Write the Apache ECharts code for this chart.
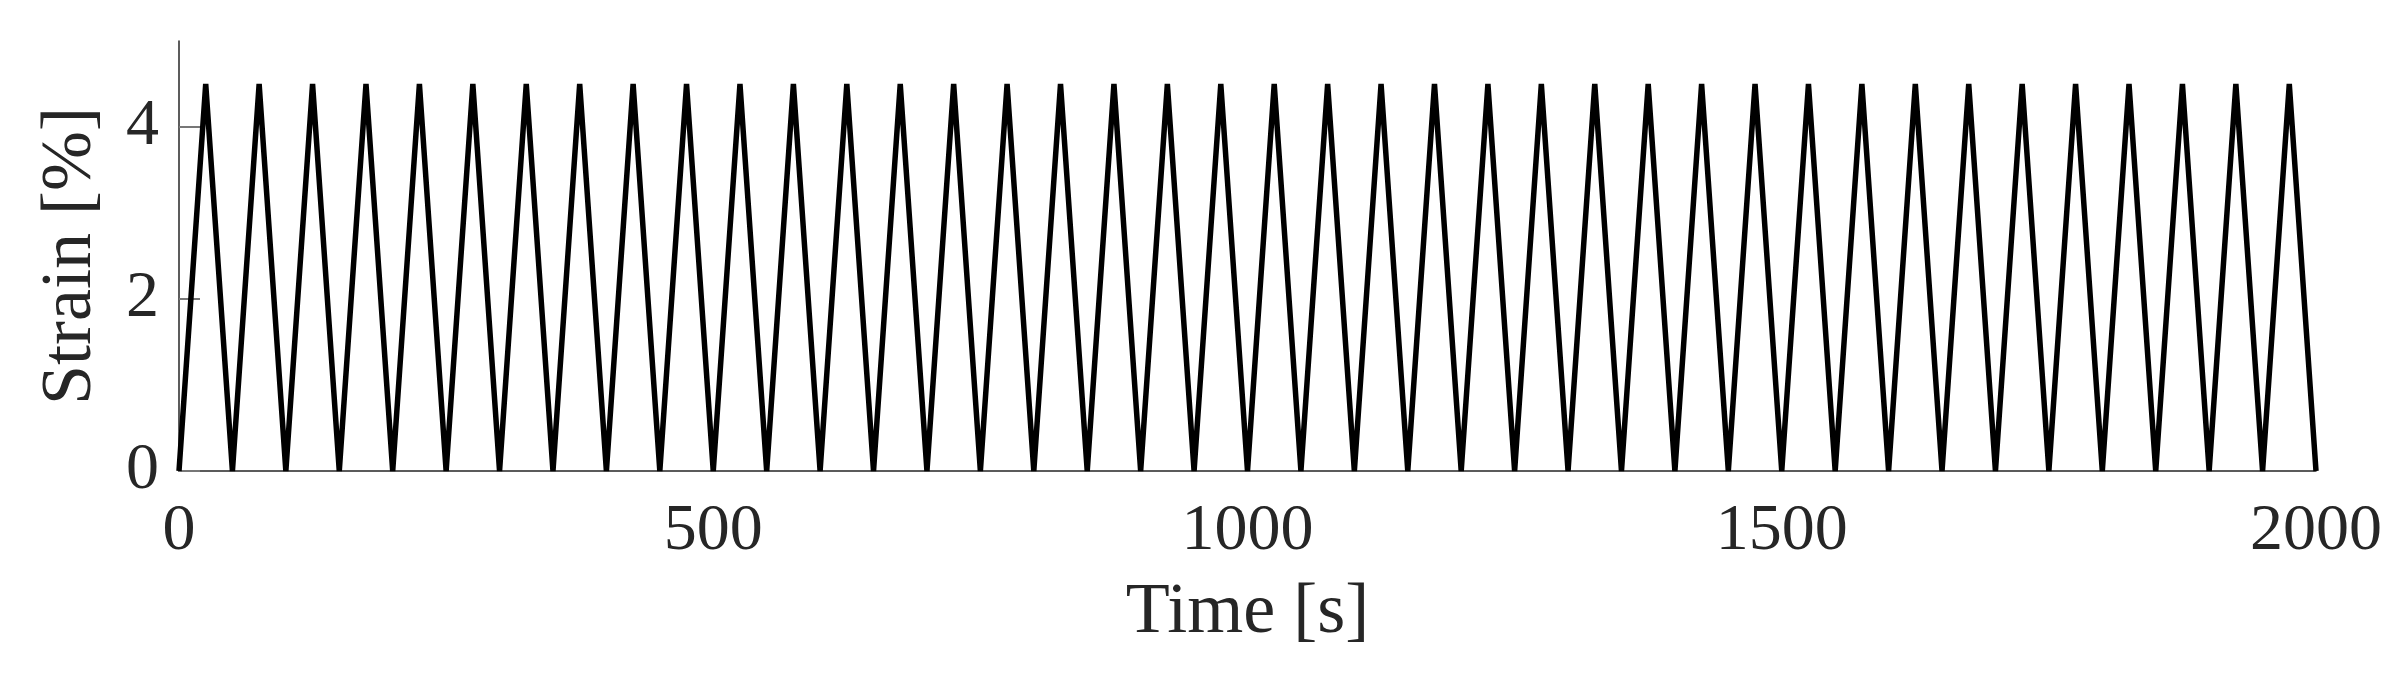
<!DOCTYPE html>
<html>
<head>
<meta charset="utf-8">
<script src="https://cdn.jsdelivr.net/npm/echarts@6/dist/echarts.min.js"></script>
<style>
  html, body { margin: 0; padding: 0; background: #fff; }
  #chart { width: 2403px; height: 684px; }
</style>
</head>
<body>
<div id="chart"></div>
<script>
// time stamps [s] at each turning point of the strain ramp
var timeVals = [
    0, 25, 50, 75, 100, 125, 150, 175, 200, 225,
    250, 275, 300, 325, 350, 375, 400, 425, 450, 475,
    500, 525, 550, 575, 600, 625, 650, 675, 700, 725,
    750, 775, 800, 825, 850, 875, 900, 925, 950, 975,
    1000, 1025, 1050, 1075, 1100, 1125, 1150, 1175, 1200, 1225,
    1250, 1275, 1300, 1325, 1350, 1375, 1400, 1425, 1450, 1475,
    1500, 1525, 1550, 1575, 1600, 1625, 1650, 1675, 1700, 1725,
    1750, 1775, 1800, 1825, 1850, 1875, 1900, 1925, 1950, 1975,
    2000
];
// strain [%] at those times
var strainVals = [
    0, 4.5, 0, 4.5, 0, 4.5, 0, 4.5, 0, 4.5,
    0, 4.5, 0, 4.5, 0, 4.5, 0, 4.5, 0, 4.5,
    0, 4.5, 0, 4.5, 0, 4.5, 0, 4.5, 0, 4.5,
    0, 4.5, 0, 4.5, 0, 4.5, 0, 4.5, 0, 4.5,
    0, 4.5, 0, 4.5, 0, 4.5, 0, 4.5, 0, 4.5,
    0, 4.5, 0, 4.5, 0, 4.5, 0, 4.5, 0, 4.5,
    0, 4.5, 0, 4.5, 0, 4.5, 0, 4.5, 0, 4.5,
    0, 4.5, 0, 4.5, 0, 4.5, 0, 4.5, 0, 4.5,
    0
];
var xTicks = [0, 500, 1000, 1500, 2000];
var yTicks = [0, 2, 4];

var myChart = echarts.init(document.getElementById('chart'));

var seriesData = [];
for (var i = 0; i < timeVals.length; i++) {
    seriesData.push([timeVals[i], strainVals[i]]);
}

var fontName = '"Liberation Serif", "Times New Roman", serif';

var option = {
    backgroundColor: '#ffffff',
    animation: false,
    grid: {
        left: 179,
        right: 87,
        top: 41,
        bottom: 213
    },
    xAxis: {
        type: 'value',
        min: 0,
        max: 2000,
        interval: 500,
        name: 'Time [s]',
        nameLocation: 'middle',
        nameGap: 106,
        nameTextStyle: { fontFamily: fontName, fontSize: 72, color: '#262626' },
        axisLine: { lineStyle: { color: '#262626', width: 1.5 } },
        axisTick: { inside: true, length: 21, customValues: xTicks, lineStyle: { color: '#777', width: 2 } },
        axisLabel: {
            margin: 28,
            customValues: xTicks,
            fontFamily: fontName,
            fontSize: 66,
            color: '#262626',
            formatter: function (v) { return String(v); }
        },
        splitLine: { show: false }
    },
    yAxis: {
        type: 'value',
        min: 0,
        max: 5,
        interval: 1,
        name: 'Strain [%]',
        nameLocation: 'middle',
        nameGap: 72,
        nameTextStyle: { fontFamily: fontName, fontSize: 72, color: '#262626' },
        axisLine: { show: true, lineStyle: { color: '#262626', width: 1.5 } },
        axisTick: { show: true, inside: true, length: 21, customValues: yTicks, lineStyle: { color: '#777', width: 2 } },
        axisLabel: {
            margin: 20,
            customValues: yTicks,
            fontFamily: fontName,
            fontSize: 66,
            color: '#262626',
            formatter: function (v) { return String(v); }
        },
        splitLine: { show: false }
    },
    series: [
        {
            type: 'line',
            data: seriesData,
            showSymbol: false,
            smooth: false,
            lineStyle: { color: '#000', width: 5.5 },
            z: 3
        }
    ]
};
myChart.setOption(option);
</script>
</body>
</html>
